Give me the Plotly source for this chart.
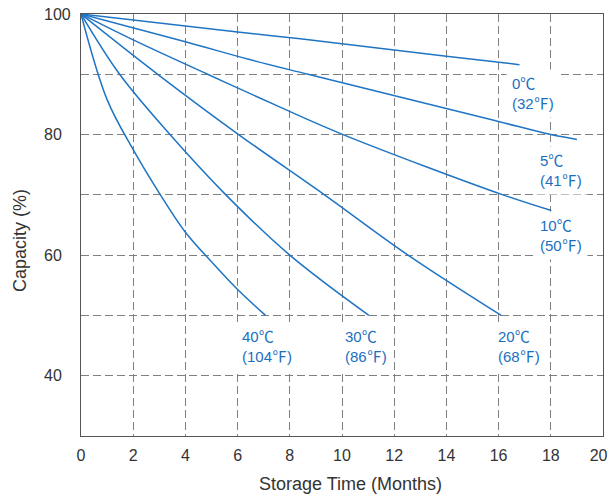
import plotly.graph_objects as go

# ---- data ----
months_0c = [0, 6, 8.4, 14, 16.8]
cap_0c = [100, 97.0, 95.9, 93.0, 91.6]

months_5c = [0, 4, 6.5, 8.7, 15.7, 18, 19]
cap_5c = [100, 95.4, 92.4, 90, 82.5, 80, 79.2]

months_10c = [0, 2, 4.85, 7.65, 10.04, 16.17, 18.02]
cap_10c = [100, 95.7, 90, 84.5, 80, 70, 67.4]

months_20c = [0, 2.94, 6.04, 9.33, 12.53, 16.1]
cap_20c = [100, 90, 80, 70, 60, 50]

months_30c = [0, 1.48, 3.41, 5.55, 8.0, 11.03]
cap_30c = [100, 90, 80, 70, 60, 50]

months_40c = [0, 1, 2, 3, 4, 5, 6, 7.07]
cap_40c = [100, 85.8, 77.5, 70.3, 63.8, 58.9, 54.3, 50]

series_labels = ["0℃<br>(32℉)", "5℃<br>(41℉)", "10℃<br>(50℉)",
                 "20℃<br>(68℉)", "30℃<br>(86℉)", "40℃<br>(104℉)"]
# label anchor (text left edge in months, text centre in %)
label_pos = [(16.53, 86.8), (17.57, 74.1), (17.57, 63.25),
             (15.99, 44.85), (10.13, 44.85), (6.17, 44.85)]

x_ticks = list(range(0, 21, 2))
x_ticktext = [str(v) for v in x_ticks[:-1]] + ["20\u2007"]
y_grid = [30, 40, 50, 60, 70, 80, 90, 100]
y_ticktext = ["", "40\u2007", "", "60\u2007", "", "80\u2007", "", "100"]

x_title = "Storage Time (Months)"
y_title = "Capacity (%)"

LINE = "#1f74c4"
TEXT_BLUE = "#1a6fc0"
GRID = "#7f7f7f"
AXIS = "#555555"
FONT = "Liberation Sans, Noto Sans CJK JP, sans-serif"

fig = go.Figure()
for xs, ys in [(months_0c, cap_0c), (months_5c, cap_5c), (months_10c, cap_10c),
               (months_20c, cap_20c), (months_30c, cap_30c), (months_40c, cap_40c)]:
    fig.add_trace(go.Scatter(x=xs, y=ys, mode="lines",
                             line=dict(color=LINE, width=1.5, shape="spline", smoothing=1.0),
                             cliponaxis=False, showlegend=False, hoverinfo="skip"))

pad = 5
for txt, (lx, ly) in zip(series_labels, label_pos):
    fig.add_annotation(x=lx - (pad + 1) / 26.1, y=ly, xref="x", yref="y",
                       text=txt, showarrow=False, xanchor="left", yanchor="middle",
                       align="left", bgcolor="white", borderpad=pad,
                       font=dict(family=FONT, size=15, color=TEXT_BLUE))

PW, PH = 522, 422
fig.add_annotation(x=(350 - 81) / PW, y=(436 - 484) / PH, xref="paper", yref="paper",
                   text=x_title, showarrow=False, xanchor="center", yanchor="middle",
                   font=dict(family=FONT, size=18, color="#333333"))
fig.add_annotation(x=(20 - 81) / PW, y=(436 - 241) / PH, xref="paper", yref="paper",
                   text=y_title, showarrow=False, textangle=-90,
                   xanchor="center", yanchor="middle",
                   font=dict(family=FONT, size=18, color="#333333"))

fig.update_layout(
    width=608, height=495,
    margin=dict(l=81, r=5, t=14, b=59),
    paper_bgcolor="white", plot_bgcolor="white",
    font=dict(family=FONT, size=16, color="#333333"),
    xaxis=dict(range=[0, 20], tickvals=x_ticks, ticktext=x_ticktext,
               showgrid=True, gridcolor=GRID, gridwidth=1.2, griddash="8px,4px",
               showline=True, linecolor=AXIS, linewidth=1.2, mirror=True,
               ticks="outside", ticklen=5, tickcolor="rgba(0,0,0,0)",
               ticklabeloverflow="allow", automargin=False,
               zeroline=False, fixedrange=True),
    yaxis=dict(range=[30, 100], tickvals=y_grid, ticktext=y_ticktext,
               showgrid=True, gridcolor=GRID, gridwidth=1.2, griddash="8px,4px",
               showline=True, linecolor=AXIS, linewidth=1.2, mirror=True,
               ticks="outside", ticklen=6, tickcolor="rgba(0,0,0,0)",
               ticklabeloverflow="allow", automargin=False,
               zeroline=False, fixedrange=True),
)

fig.write_html("out.html", config={"displayModeBar": False},
               post_script="document.body.style.margin='0';"
                           "document.body.style.overflow='hidden';")
